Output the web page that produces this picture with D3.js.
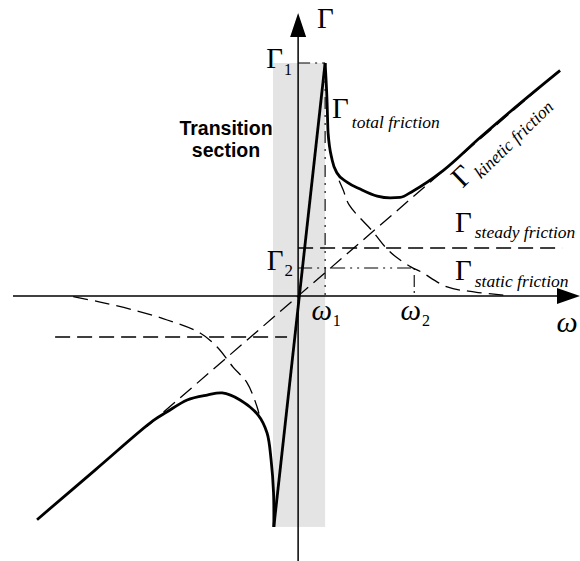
<!DOCTYPE html>
<html>
<head>
<meta charset="utf-8">
<script src="https://cdn.jsdelivr.net/npm/d3@7/dist/d3.min.js"></script>
<style>
  html, body { margin: 0; padding: 0; background: #fff; }
  svg { display: block; }
  .serif { font-family: "Liberation Serif", "Times New Roman", serif; }
</style>
</head>
<body>
<div id="chart"></div>
<script>
// Friction torque Γ versus speed ω (Stribeck-type friction model)

// characteristic points
const omega1 = 1.0;   // end of the transition section
const omega2 = 4.3;   // static friction decays by here
const gamma1 = 10.0;  // breakaway peak
const gamma2 = 1.2;   // static level marked on the axis
const gammaSteady = 2.06;
const gammaSteadyNeg = -1.76;

// total friction, positive speed branch (from the peak outwards)
const totalRight = [
  [1.0, 10.0], [1.07, 8.4], [1.11, 7.0], [1.26, 5.84], [1.44, 5.28],
  [1.81, 4.89], [2.3, 4.59], [2.93, 4.29], [3.41, 4.21], [3.78, 4.23],
  [4.26, 4.51], [5.37, 5.38], [6.74, 6.8], [8.22, 8.27], [9.7, 9.68]
];
// total friction, negative speed branch (ending at the negative peak)
const totalLeft = [
  [-9.67, -9.6], [-7.5, -7.45], [-5.37, -5.35], [-4.85, -4.97],
  [-4.11, -4.46], [-3.37, -4.25], [-2.81, -4.16], [-2.15, -4.46],
  [-1.48, -5.11], [-1.15, -5.88], [-1.0, -7.04], [-0.91, -8.45], [-0.9, -9.91]
];
// steep line across the transition section
const transition = [[-0.9, -9.91], [1.0, 10.0]];

// kinetic (viscous) friction line
const kinetic = [[-5.6, -5.6], [9.6, 9.6]];

// static friction, both branches
const staticRight = [
  [1.52, 4.95], [1.67, 4.55], [1.89, 3.91], [2.78, 2.75], [3.26, 2.06],
  [3.63, 1.67], [4.19, 1.24], [4.56, 1.03], [5.52, 0.39], [6.56, 0.17], [7.6, 0.04]
];
const staticLeft = [
  [-8.33, -0.03], [-7.33, -0.26], [-6.11, -0.6], [-4.85, -1.03],
  [-3.63, -1.59], [-3.0, -2.19], [-2.41, -3.05], [-1.89, -3.73],
  [-1.52, -4.76], [-1.45, -5.05]
];

// steady friction levels
const steadyPos = [[0, gammaSteady], [9.78, gammaSteady]];
const steadyNeg = [[-9.0, gammaSteadyNeg], [-0.41, gammaSteadyNeg]];

// transition band extent
const bandOmega = [-0.93, omega1];
const bandGamma = [-9.91, gamma1];

// labels
const axisLabels = { gamma: "Γ", omega: "ω" };
const tickLabels = [
  { base: "Γ", sub: "1" }, { base: "Γ", sub: "2" },
  { base: "ω", sub: "1" }, { base: "ω", sub: "2" }
];
const seriesLabels = ["total friction", "steady friction", "static friction", "kinetic friction"];
const bandLabel = ["Transition", "section"];

const W = 580, H = 561;
const svg = d3.select("#chart").append("svg")
  .attr("width", W).attr("height", H);

const x = d3.scaleLinear().domain([-10.56, 10.44]).range([13, 580]);
const y = d3.scaleLinear().domain([-11.373, 12.704]).range([561, 0]);

const line = d3.line().x(d => x(d[0])).y(d => y(d[1]));
const smooth = d3.line().x(d => x(d[0])).y(d => y(d[1])).curve(d3.curveCatmullRom.alpha(0.5));
const monotone = d3.line().x(d => x(d[0])).y(d => y(d[1])).curve(d3.curveMonotoneX);

// transition band
svg.append("rect")
  .attr("x", x(bandOmega[0])).attr("y", y(bandGamma[1]))
  .attr("width", x(bandOmega[1]) - x(bandOmega[0]))
  .attr("height", y(bandGamma[0]) - y(bandGamma[1]))
  .attr("fill", "#e4e4e4");

// axes
const x0 = x(0), y0 = y(0);
svg.append("line").attr("x1", x(-10.56)).attr("x2", 560).attr("y1", y0).attr("y2", y0)
  .attr("stroke", "#000").attr("stroke-width", 1.5);
svg.append("line").attr("x1", x0).attr("x2", x0).attr("y1", H).attr("y2", 30)
  .attr("stroke", "#000").attr("stroke-width", 1.5);
svg.append("path")
  .attr("d", `M${x0},13 L${x0 + 8},37 L${x0 - 8},37 Z`).attr("fill", "#000");
svg.append("path")
  .attr("d", `M580,${y0} L557,${y0 - 8} L557,${y0 + 8} Z`).attr("fill", "#000");

// dash-dot guides
const guide = (pts, dash) => svg.append("path").attr("d", line(pts))
  .attr("fill", "none").attr("stroke", "#000").attr("stroke-width", 1.1)
  .attr("stroke-dasharray", dash);
guide([[0, gamma1], [omega1, gamma1]], "12,5,2,5");
guide([[omega1, gamma1], [omega1, 0]], "12,6,2,6,2,6");
guide([[0, gamma2], [omega2, gamma2]], "14,5,2,5,2,5");
guide([[omega2, gamma2], [omega2, 0]], "2,5,12,4");

// dashed component curves
const dashed = (pts, gen) => svg.append("path").attr("d", gen(pts))
  .attr("fill", "none").attr("stroke", "#000").attr("stroke-width", 1.3)
  .attr("stroke-dasharray", "15,7");
dashed(steadyPos, line);
dashed(steadyNeg, line);
dashed(kinetic, line);
dashed(staticRight, smooth);
dashed(staticLeft, smooth);

// total friction
const solid = (pts, gen) => svg.append("path").attr("d", gen(pts))
  .attr("fill", "none").attr("stroke", "#000").attr("stroke-width", 2.8)
  .attr("stroke-linejoin", "round").attr("stroke-linecap", "butt");
solid(totalRight, monotone);
solid(totalLeft, smooth);
solid(transition, line);

// axis names
svg.append("text").attr("class", "serif").attr("x", 317).attr("y", 28)
  .attr("font-size", 29).text(axisLabels.gamma);
svg.append("text").attr("class", "serif").attr("x", 567).attr("y", 332)
  .attr("text-anchor", "middle").attr("font-size", 30).attr("font-style", "italic")
  .text(axisLabels.omega);

// tick labels with subscripts
function subLabel(g, px, py, base, sub, anchor, baseSize, subSize, italic, dy) {
  const t = g.append("text").attr("class", "serif").attr("x", px).attr("y", py)
    .attr("text-anchor", anchor).attr("font-size", baseSize);
  t.append("tspan").attr("font-style", italic ? "italic" : "normal").text(base);
  t.append("tspan").attr("font-size", subSize).attr("dx", 1).attr("dy", dy).text(sub);
  return t;
}
subLabel(svg, x0 - 6, y(gamma1) + 5, tickLabels[0].base, tickLabels[0].sub, "end", 29, 16, false, 7);
subLabel(svg, x0 - 5, y(gamma2) + 2, tickLabels[1].base, tickLabels[1].sub, "end", 29, 17, false, 6);
subLabel(svg, x(omega1) + 1, y0 + 24, tickLabels[2].base, tickLabels[2].sub, "middle", 29, 16, true, 6);
subLabel(svg, x(omega2) + 1, y0 + 24, tickLabels[3].base, tickLabels[3].sub, "middle", 29, 16, true, 6);

// series labels: Γ followed by an italic subscript name
function seriesLabel(g, px, py, name, dy) {
  const t = g.append("text").attr("class", "serif").attr("x", px).attr("y", py)
    .attr("font-size", 29);
  t.append("tspan").text("Γ");
  t.append("tspan").attr("font-size", 17.5).attr("font-style", "italic")
    .attr("dx", 3).attr("dy", dy).text(name);
}
seriesLabel(svg, 332, 118, seriesLabels[0], 10);
seriesLabel(svg, 455, 232, seriesLabels[1], 6);
seriesLabel(svg, 455, 280, seriesLabels[2], 7);
const kg = svg.append("g").attr("transform", "translate(462.5,188.7) rotate(-44)");
seriesLabel(kg, 0, 0, seriesLabels[3], 6);

// transition section caption
const cap = svg.append("text")
  .attr("font-family", "'Liberation Sans', Arial, sans-serif")
  .attr("font-weight", "bold").attr("font-size", 19.5)
  .attr("text-anchor", "middle");
cap.append("tspan").attr("x", 226).attr("y", 135).text(bandLabel[0]);
cap.append("tspan").attr("x", 226).attr("y", 157).text(bandLabel[1]);
</script>
</body>
</html>
